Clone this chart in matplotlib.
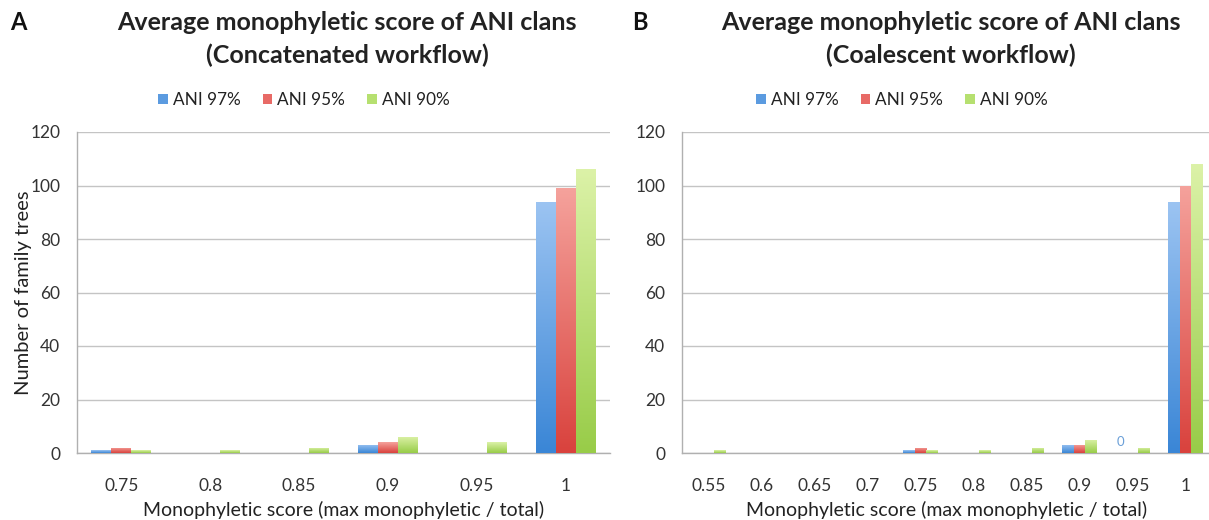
import matplotlib
matplotlib.use("Agg")
import matplotlib.pyplot as plt
import numpy as np
from matplotlib.colors import LinearSegmentedColormap
from matplotlib.patches import Patch

plt.rcParams['font.family'] = ['Lato', 'DejaVu Sans']

series_names = ["ANI 97%", "ANI 95%", "ANI 90%"]

cats_a = ["0.75", "0.8", "0.85", "0.9", "0.95", "1"]
a_97 = [1, 0, 0, 3, 0, 94]
a_95 = [2, 0, 0, 4, 0, 99]
a_90 = [1, 1, 2, 6, 4, 106]

cats_b = ["0.55", "0.6", "0.65", "0.7", "0.75", "0.8", "0.85", "0.9", "0.95", "1"]
b_97 = [0, 0, 0, 0, 1, 0, 0, 3, 0, 94]
b_95 = [0, 0, 0, 0, 2, 0, 0, 3, 0, 100]
b_90 = [1, 0, 0, 0, 1, 1, 2, 5, 2, 108]

titles = ["Average monophyletic score of ANI clans\n(Concatenated workflow)",
          "Average monophyletic score of ANI clans\n(Coalescent workflow)"]

grads = [("#9cc4f2", "#3a86d6"), ("#f5a29c", "#d9423d"), ("#dcf2a8", "#98cc48")]
legend_cols = ["#5b9be0", "#e86a66", "#b6e070"]

W, H = 1209, 520
fig = plt.figure(figsize=(W / 100, H / 100), dpi=100)
ax_a = fig.add_axes([77/W, 67/H, (610-77)/W, (453-132)/H])
ax_b = fig.add_axes([682/W, 67/H, (1212-682)/W, (453-132)/H])


def draw(ax, cats, series, title, title_cx, legend_cx, letter, letter_x, ylabel):
    x = np.arange(len(cats))
    w = 0.225
    for i, vals in enumerate(series):
        cmap = LinearSegmentedColormap.from_list("g%d" % i, [grads[i][1], grads[i][0]])
        bars = ax.bar(x + (i - 1) * w, vals, w, color=grads[i][1], zorder=2, linewidth=0)
        for b in bars:
            h = b.get_height()
            if h <= 0:
                continue
            bx, by = b.get_x(), b.get_y()
            im = ax.imshow(np.linspace(0, 1, 256).reshape(-1, 1), cmap=cmap, aspect='auto',
                           extent=[bx, bx + b.get_width(), by, by + h],
                           origin='lower', zorder=3, vmin=0, vmax=1)
            im.set_clip_path(b)
    ax.set_xlim(-0.5, len(cats) - 0.5)
    ax.set_ylim(0, 120)
    ax.set_yticks(range(0, 121, 20))
    ax.set_xticks(x)
    ax.set_xticklabels(cats)
    ax.grid(axis='y', color='#c4c4c4', linewidth=1.0, zorder=0)
    ax.set_axisbelow(True)
    for s in ['top', 'right']:
        ax.spines[s].set_visible(False)
    for s in ['left', 'bottom']:
        ax.spines[s].set_color('#b0b0b0')
        ax.spines[s].set_linewidth(1.0)
    ax.tick_params(axis='both', length=0, labelsize=12.5, colors='#333333')
    ax.tick_params(axis='x', pad=18)
    ax.tick_params(axis='y', pad=12)
    ax.set_xlabel("Monophyletic score (max monophyletic / total)", fontsize=14,
                  color='#222222', labelpad=5)
    if ylabel:
        ax.set_ylabel("Number of family trees", fontsize=14.5, color='#222222', labelpad=-1)
    fig.text(title_cx / W, 1 - 39 / H, title, fontsize=18, fontweight='bold',
             color='#222222', ha='center', va='center', linespacing=1.5)
    handles = [Patch(facecolor=c, edgecolor='none') for c in legend_cols]
    fig.legend(handles, series_names, loc='center', bbox_to_anchor=(legend_cx / W, 1 - 100 / H),
               ncol=3, frameon=False, fontsize=12.3, handlelength=0.55, handleheight=0.55,
               handletextpad=0.3, columnspacing=1.3, borderaxespad=0,
               labelcolor='#222222')
    fig.text(letter_x / W, 1 - 22 / H, letter, fontsize=17, fontweight='bold',
             color='#111111', va='center', ha='left')


draw(ax_a, cats_a, [a_97, a_95, a_90], titles[0], 347, 304, "A", 10, True)
draw(ax_b, cats_b, [b_97, b_95, b_90], titles[1], 951, 902, "B", 632, False)

# data label "0" on the ANI 97% bar at 0.95 in panel B
idx = cats_b.index("0.95")
ax_b.text(idx - 0.225, b_97[idx] + 2, str(b_97[idx]), ha='center', va='bottom',
          fontsize=9.5, color='#6a9fd8')

fig.savefig("out.png", dpi=100, facecolor='white')
